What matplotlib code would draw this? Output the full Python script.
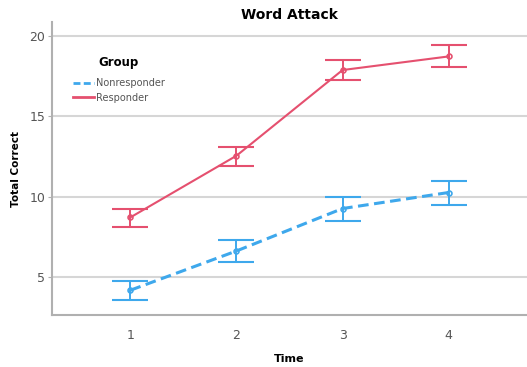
import matplotlib.pyplot as plt
from matplotlib.lines import Line2D

# Estimated marginal means
times = [1, 2, 3, 4]
nonresp_mean = [4.15, 6.6, 9.25, 10.25]
nonresp_low = [3.55, 5.9, 8.5, 9.5]
nonresp_high = [4.75, 7.3, 10.0, 11.0]
resp_mean = [8.7, 12.55, 17.9, 18.75]
resp_low = [8.1, 11.9, 17.25, 18.1]
resp_high = [9.2, 13.1, 18.5, 19.45]

blue = '#3ea8ec'
red = '#e5506f'
dash = (0, (3.5, 1.8))

fig = plt.figure(figsize=(5.27, 3.67), dpi=100)
ax = fig.add_axes([0.0987, 0.1417, 0.9013, 0.7983])

def draw(mean, low, high, color, ls, lw):
    yerr = [[m - l for m, l in zip(mean, low)], [h - m for m, h in zip(mean, high)]]
    ax.errorbar(times, mean, yerr=yerr, fmt='none', ecolor=color, elinewidth=1.4,
                capsize=13, capthick=1.5, zorder=3)
    ax.plot(times, mean, color=color, linestyle=ls, linewidth=lw,
            marker='o', markersize=3.5, markerfacecolor='none', markeredgewidth=1.2,
            zorder=4)

draw(nonresp_mean, nonresp_low, nonresp_high, blue, dash, 2.2)
draw(resp_mean, resp_low, resp_high, red, '-', 1.5)

ax.set_xlim(0.26, 4.74)
ax.set_ylim(2.6, 20.9)
ax.set_xticks(times)
ax.set_yticks([5, 10, 15, 20])
ax.yaxis.grid(True, color='#d6d6d6', linewidth=1.5)
ax.set_axisbelow(True)
for s in ['top', 'right']:
    ax.spines[s].set_visible(False)
for s in ['left', 'bottom']:
    ax.spines[s].set_color('#b0b0b0')
    ax.spines[s].set_linewidth(1.5)
ax.tick_params(axis='x', length=0, pad=10, labelsize=9, labelcolor='#555555')
ax.tick_params(axis='y', length=3, color='#b0b0b0', pad=2, labelsize=9, labelcolor='#555555')

ax.set_title('Word Attack', fontsize=10, fontweight='bold', pad=1)
ax.set_xlabel('Time', fontsize=8, fontweight='bold', labelpad=9)
ax.set_ylabel('Total Correct', fontsize=7.5, fontweight='bold', labelpad=6)

handles = [Line2D([], [], color=blue, linestyle=(0, (2.5, 1.2)), linewidth=2),
           Line2D([], [], color=red, linestyle='-', linewidth=2)]
leg = ax.legend(handles, ['Nonresponder', 'Responder'], title='Group', loc='upper left',
                bbox_to_anchor=(0.025, 0.915), frameon=False, fontsize=7,
                handlelength=2.2, handletextpad=0.25, labelspacing=0.45)
leg.get_title().set_fontweight('bold')
leg.get_title().set_fontsize(8.5)
leg._legend_box.sep = 7
for t in leg.get_texts():
    t.set_color('#555555')

fig.savefig('out.png', dpi=100)
